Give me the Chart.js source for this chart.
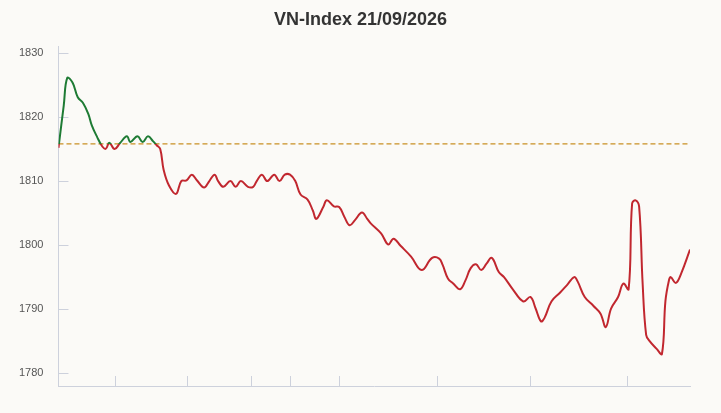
<!DOCTYPE html>
<html>
<head>
<meta charset="utf-8">
<script src="https://cdn.jsdelivr.net/npm/chart.js@4"></script>
<style>
  body { margin: 0; background: #fbfaf7; }
  #wrap { width: 721px; height: 413px; }
</style>
</head>
<body>
<div id="wrap"><canvas id="myChart"></canvas></div>
<script>
// minutes since the open, and the index value read at that minute
const minutes = [0, 3, 5, 8, 11, 14, 17, 19, 22, 25, 27, 29, 32, 35, 39, 41, 45, 48, 51, 54, 56, 58, 60, 63, 67, 70, 73, 76, 79, 83, 86, 89, 91, 94, 98, 101, 104, 108, 111, 113, 116, 119, 123, 126, 129, 132, 135, 138, 142, 145, 147, 151, 153, 157, 160, 163, 166, 169, 173, 176, 178, 184, 188, 191, 195, 201, 207, 213, 217, 219, 222, 225, 229, 232, 235, 238, 241, 244, 247, 251, 254, 259, 265, 269, 272, 275, 277, 281, 286, 290, 294, 296, 300, 305, 309, 312, 315, 319, 322, 325, 327, 329, 331, 333, 335, 337, 341, 344, 346, 348, 349, 352, 355, 360];
const prices = [1815.2, 1821.8, 1826.1, 1825.4, 1823.1, 1822.2, 1820.5, 1818.7, 1816.9, 1815.4, 1815.05, 1816.0, 1815.0, 1815.9, 1817.0, 1816.1, 1817.0, 1816.1, 1817.0, 1816.2, 1815.6, 1815.0, 1811.7, 1809.3, 1808.0, 1810.0, 1810.1, 1811.0, 1810.1, 1809.0, 1810.0, 1811.0, 1810.0, 1809.1, 1810.0, 1809.1, 1810.0, 1809.1, 1809.1, 1810.0, 1811.0, 1810.0, 1811.0, 1810.0, 1811.0, 1811.0, 1810.0, 1807.9, 1807.1, 1805.4, 1804.1, 1806.0, 1807.0, 1806.05, 1805.95, 1804.4, 1803.1, 1803.9, 1805.1, 1804.1, 1803.4, 1801.8, 1800.1, 1801.0, 1799.9, 1798.2, 1796.1, 1798.0, 1797.9, 1796.9, 1794.8, 1794.0, 1793.1, 1794.5, 1796.4, 1797.0, 1796.1, 1797.1, 1798.0, 1795.8, 1795.0, 1793.1, 1791.2, 1791.9, 1790.1, 1788.1, 1788.6, 1791.2, 1792.6, 1793.8, 1795.0, 1794.3, 1791.9, 1790.5, 1789.3, 1787.2, 1790.1, 1791.9, 1794.0, 1793.1, 1806.5, 1807.0, 1806.0, 1794.0, 1786.0, 1785.0, 1783.8, 1783.0, 1791.3, 1794.5, 1795.0, 1794.1, 1795.6, 1799.3];
const refPrice = 1815.8;
const yTicks = [1780, 1790, 1800, 1810, 1820, 1830];
const xTickMarks = [32, 73, 110, 132, 160, 216, 269, 324];

const GREEN = "#1e7b34";
const RED = "#c1272f";
const AXIS = "#cdd1dc";

function lineColor(context) {
  const chart = context.chart;
  const { ctx, chartArea, scales } = chart;
  if (!chartArea) return RED;
  const yRef = scales.y.getPixelForValue(refPrice);
  let r = (yRef - chartArea.top) / (chartArea.bottom - chartArea.top);
  r = Math.min(1, Math.max(0, r));
  const g = ctx.createLinearGradient(0, chartArea.top, 0, chartArea.bottom);
  g.addColorStop(0, GREEN);
  g.addColorStop(r, GREEN);
  g.addColorStop(r, RED);
  g.addColorStop(1, RED);
  return g;
}

// short inward tick marks on both axes
const tickMarks = {
  id: "tickMarks",
  beforeDatasetsDraw(chart) {
    const { ctx, chartArea, scales } = chart;
    ctx.save();
    ctx.strokeStyle = AXIS;
    ctx.lineWidth = 1;
    ctx.beginPath();
    yTicks.forEach((v) => {
      const y = Math.round(scales.y.getPixelForValue(v)) + 0.5;
      ctx.moveTo(chartArea.left, y);
      ctx.lineTo(chartArea.left + 10, y);
    });
    xTickMarks.forEach((m) => {
      const x = Math.round(scales.x.getPixelForValue(m)) + 0.5;
      ctx.moveTo(x, chartArea.bottom);
      ctx.lineTo(x, chartArea.bottom - 10);
    });
    ctx.stroke();
    ctx.restore();
  },
};

const ctx = document.getElementById("myChart");

const chart = new Chart(ctx, {
  type: "line",
  data: {
    datasets: [
      {
        label: "VN-Index",
        data: minutes.map((m, i) => ({ x: m, y: prices[i] })),
        borderColor: lineColor,
        borderWidth: 2,
        pointRadius: 0,
        tension: 0.4,
        fill: false,
      },
      {
        label: "Tham chiếu",
        data: [
          { x: minutes[0], y: refPrice },
          { x: minutes[minutes.length - 1], y: refPrice },
        ],
        borderColor: "#c99024",
        borderWidth: 1.2,
        borderDash: [5, 3],
        pointRadius: 0,
        fill: false,
      },
    ],
  },
  options: {
    responsive: true,
    maintainAspectRatio: false,
    animation: false,
    layout: {
      padding: { left: 4, right: 4, top: 1, bottom: 27 },
    },
    scales: {
      x: {
        type: "linear",
        min: 0,
        max: 360,
        grid: { display: false, drawTicks: false },
        border: { color: AXIS },
        ticks: { display: false },
      },
      y: {
        min: 1778,
        max: 1831,
        grid: { display: false, drawTicks: false },
        border: { color: AXIS },
        afterBuildTicks: (axis) => {
          axis.ticks = yTicks.map((v) => ({ value: v }));
        },
        ticks: {
          color: "#555",
          padding: 15,
          font: { family: "Liberation Sans, Arial, sans-serif", size: 11 },
          callback: (v) => String(v),
        },
      },
      // empty right-hand gutter so the title stays centred on the page
      gutter: {
        position: "right",
        min: 1778,
        max: 1831,
        grid: { display: false, drawTicks: false },
        border: { display: false },
        ticks: { display: false },
        afterFit: (axis) => {
          axis.width = 27;
        },
      },
    },
    plugins: {
      legend: { display: false },
      tooltip: { enabled: false },
      title: {
        display: true,
        text: "VN-Index 21/09/2026",
        color: "#333",
        font: { family: "Liberation Sans, Arial, sans-serif", size: 18, weight: "bold" },
        padding: { top: 8, bottom: 16 },
      },
    },
  },
  plugins: [tickMarks],
});
</script>
</body>
</html>
